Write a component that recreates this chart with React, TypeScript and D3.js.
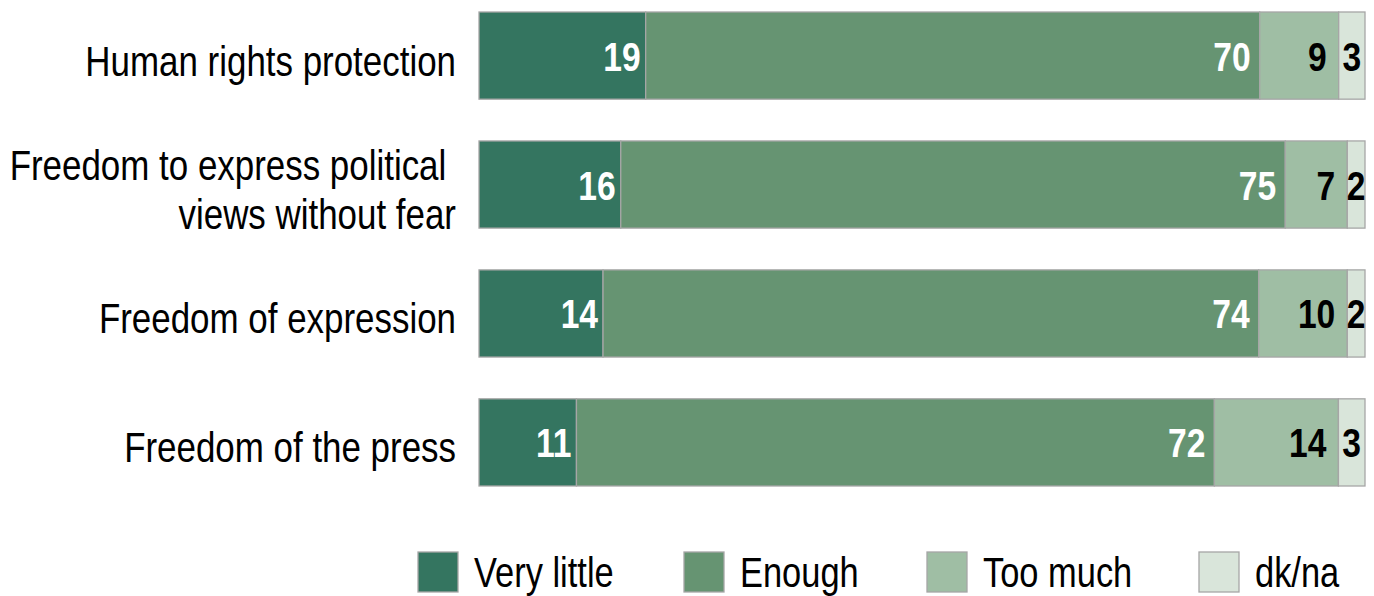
import React from "react";
import * as d3 from "d3";

const categories = [
  "Human rights protection",
  "Freedom to express political views without fear",
  "Freedom of expression",
  "Freedom of the press",
];
const categoryLines = [
  ["Human rights protection"],
  ["Freedom to express political ", "views without fear"],
  ["Freedom of expression"],
  ["Freedom of the press"],
];
const seriesNames = ["Very little", "Enough", "Too much", "dk/na"];
const veryLittle = [19, 16, 14, 11];
const enough = [70, 75, 74, 72];
const tooMuch = [9, 7, 10, 14];
const dkna = [3, 2, 2, 3];

const colors = ["#347560", "#669472", "#9fbea4", "#d9e5da"];
const labelColors = ["#ffffff", "#ffffff", "#000000", "#000000"];

const W = 1374;
const H = 596;
const FONT = "'Liberation Sans', Arial, sans-serif";
const NARROW = 0.82;

function NarrowText(props: {
  x: number;
  y: number;
  anchor?: "start" | "middle" | "end";
  size: number;
  bold?: boolean;
  fill: string;
  children: React.ReactNode;
}) {
  return (
    <text
      transform={`translate(${props.x},${props.y}) scale(${NARROW},1)`}
      textAnchor={props.anchor || "start"}
      fontSize={props.size}
      fontWeight={props.bold ? "bold" : "normal"}
      fill={props.fill}
      style={{ whiteSpace: "pre" }}
    >
      {props.children}
    </text>
  );
}

export default function App() {
  const rows = categories.map((c, i) => ({
    cat: c,
    "Very little": veryLittle[i],
    Enough: enough[i],
    "Too much": tooMuch[i],
    "dk/na": dkna[i],
  }));
  const stack = d3
    .stack<any>()
    .keys(seriesNames)
    .offset(d3.stackOffsetExpand);
  const series = stack(rows);

  const x = d3.scaleLinear().domain([0, 1]).range([479, 1365]);
  const y = d3
    .scaleBand<string>()
    .domain(categories)
    .range([12, 486])
    .paddingInner(0.324)
    .paddingOuter(0);
  const bw = y.bandwidth();

  const legendX = [418, 684, 927, 1199];

  return (
    <svg
      width={W}
      height={H}
      style={{ position: "absolute", left: 0, top: 0, background: "#fff" }}
      fontFamily={FONT}
    >
      {series.map((s, si) => (
        <g key={s.key}>
          {s.map((d, i) => {
            const x0 = x(d[0]);
            const x1 = x(d[1]);
            const yy = y(categories[i])!;
            const val = (d.data as any)[s.key] as number;
            let tx: number;
            let anchor: "end" | "middle" = "end";
            if (si === 3) {
              tx = (x0 + x1) / 2;
              anchor = "middle";
            } else if (si === 0) tx = x1 - 5;
            else if (si === 1) tx = x1 - 9;
            else tx = x1 - 12;
            return (
              <g key={i}>
                <rect
                  x={x0}
                  y={yy}
                  width={x1 - x0}
                  height={bw}
                  fill={colors[si]}
                  stroke="#a6a6a6"
                  strokeWidth={1.3}
                />
                <NarrowText
                  x={tx}
                  y={yy + bw / 2 + 15}
                  anchor={anchor}
                  bold
                  size={41}
                  fill={labelColors[si]}
                >
                  {val}
                </NarrowText>
              </g>
            );
          })}
        </g>
      ))}
      {categories.map((c, i) => {
        const lines = categoryLines[i];
        const cy = y(c)! + bw / 2;
        const lh = 49;
        const start = cy + 20 - ((lines.length - 1) * lh) / 2;
        return (
          <g key={c}>
            {lines.map((l, li) => (
              <NarrowText
                key={li}
                x={456}
                y={start + li * lh}
                anchor="end"
                size={42.6}
                fill="#000"
              >
                {l}
              </NarrowText>
            ))}
          </g>
        );
      })}
      {seriesNames.map((n, i) => (
        <g key={n}>
          <rect
            x={legendX[i]}
            y={552}
            width={40}
            height={40}
            fill={colors[i]}
            stroke="#a6a6a6"
            strokeWidth={1.3}
          />
          <NarrowText x={legendX[i] + 56} y={587} size={42} fill="#000">
            {n}
          </NarrowText>
        </g>
      ))}
    </svg>
  );
}
